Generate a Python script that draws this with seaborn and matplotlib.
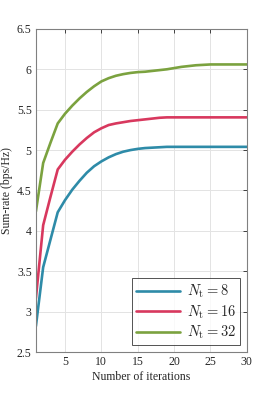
import matplotlib
matplotlib.use("Agg")
import matplotlib.pyplot as plt
import seaborn as sns
import pandas as pd

iterations = list(range(1, 31))
rate_nt8 = [2.82, 3.55, 3.89, 4.23, 4.38, 4.51, 4.62, 4.72, 4.80, 4.86,
            4.91, 4.95, 4.98, 5.00, 5.015, 5.025, 5.03, 5.035, 5.04, 5.04,
            5.04, 5.04, 5.04, 5.04, 5.04, 5.04, 5.04, 5.04, 5.04, 5.04]
rate_nt16 = [3.165, 4.07, 4.42, 4.76, 4.88, 4.98, 5.07, 5.15, 5.22, 5.27,
             5.31, 5.33, 5.345, 5.36, 5.37, 5.38, 5.39, 5.40, 5.405, 5.405,
             5.405, 5.405, 5.405, 5.405, 5.405, 5.405, 5.405, 5.405, 5.405, 5.405]
rate_nt32 = [4.24, 4.84, 5.09, 5.33, 5.45, 5.55, 5.64, 5.72, 5.79, 5.85,
             5.89, 5.92, 5.94, 5.955, 5.965, 5.97, 5.98, 5.99, 6.00, 6.015,
             6.03, 6.04, 6.05, 6.055, 6.06, 6.06, 6.06, 6.06, 6.06, 6.06]
labels = [r'$N_\mathrm{t}=8$', r'$N_\mathrm{t}=16$', r'$N_\mathrm{t}=32$']
colors = ['#2E8BA8', '#D8385E', '#7BA23F']

df = pd.DataFrame({
    'iter': iterations * 3,
    'rate': rate_nt8 + rate_nt16 + rate_nt32,
    'case': [labels[0]] * 30 + [labels[1]] * 30 + [labels[2]] * 30,
})

sns.set_style('white')
plt.rcParams['font.family'] = ['Liberation Serif', 'DejaVu Serif']
plt.rcParams['mathtext.fontset'] = 'cm'

fig = plt.figure(figsize=(2.74, 3.96), dpi=100)
ax = fig.add_axes([0.131, 0.111, 0.770, 0.816])
sns.lineplot(data=df, x='iter', y='rate', hue='case', palette=colors,
             linewidth=1.9, ax=ax)

ax.set_xlim(1, 30)
ax.set_ylim(2.5, 6.5)
ax.set_xticks([5, 10, 15, 20, 25, 30])
ax.set_yticks([2.5, 3, 3.5, 4, 4.5, 5, 5.5, 6, 6.5])
ax.set_yticklabels(['2.5', '3', '3.5', '4', '4.5', '5', '5.5', '6', '6.5'])
ax.grid(True, color='#e3e3e3', linewidth=0.7)
ax.tick_params(direction='in', length=3, width=0.6, color='#262626',
               labelsize=8.5, top=True, right=True, labelcolor='#262626', pad=3)
for s in ax.spines.values():
    s.set_color('#808080')
    s.set_linewidth(0.8)
ax.set_xlabel('Number of iterations', fontsize=8.5, color='#262626', labelpad=2)
ax.set_ylabel('Sum-rate (bps/Hz)', fontsize=8.5, color='#262626', labelpad=3)

leg = ax.legend(loc='lower right', fontsize=10.5, frameon=True, fancybox=False,
                edgecolor='#262626', handlelength=3.0, borderpad=0.3,
                labelspacing=0.2, handletextpad=0.5, borderaxespad=0.45)
leg.get_frame().set_linewidth(0.7)

fig.savefig('out.png', dpi=100)
